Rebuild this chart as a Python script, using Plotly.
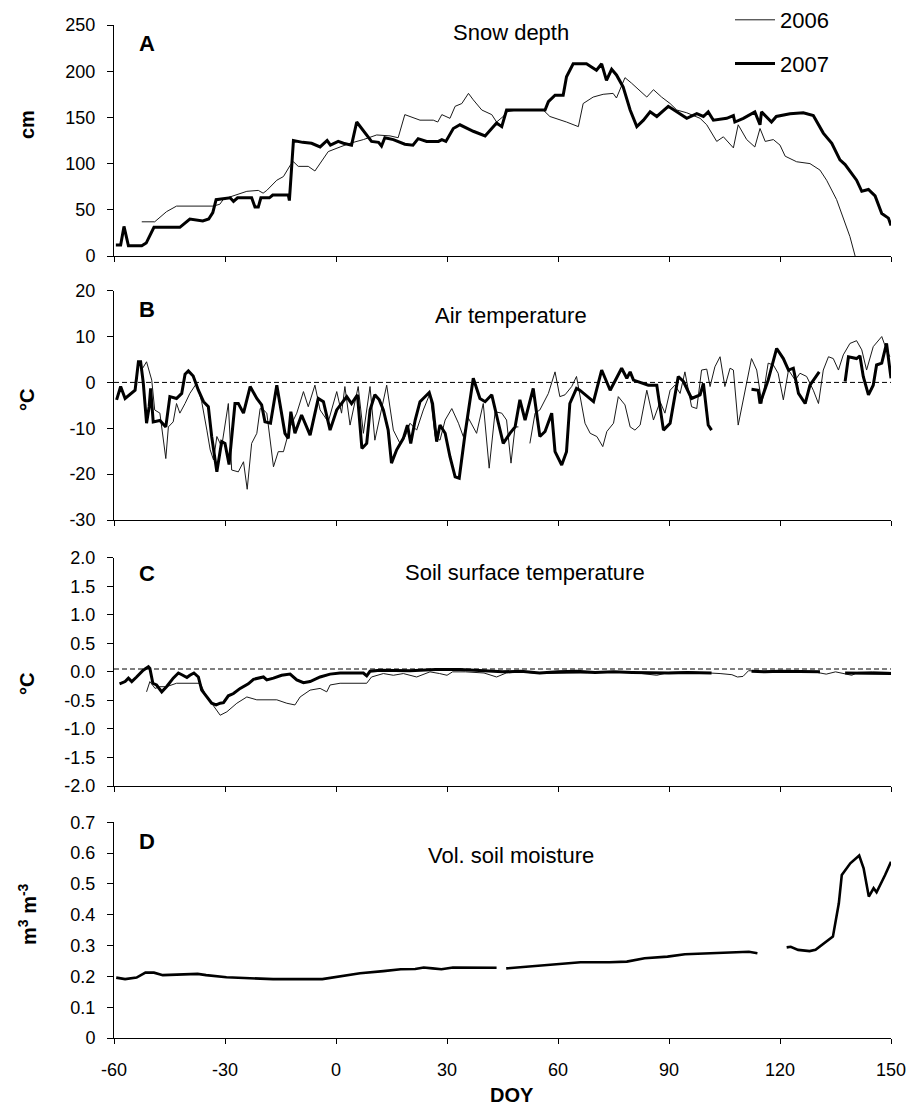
import plotly.graph_objects as go

# ---------------- DATA ----------------
doy_ticks = [-60, -30, 0, 30, 60, 90, 120, 150]
doy_tick_labels = ["-60", "-30", "0", "30", "60", "90", "120", "150"]

snow_ticks = [0, 50, 100, 150, 200, 250]
snow_tick_labels = ["0", "50", "100", "150", "200", "250"]
air_ticks = [-30, -20, -10, 0, 10, 20]
air_tick_labels = ["-30", "-20", "-10", "0", "10", "20"]
soil_ticks = [-2.0, -1.5, -1.0, -0.5, 0.0, 0.5, 1.0, 1.5, 2.0]
soil_tick_labels = ["-2.0", "-1.5", "-1.0", "-0.5", "0.0", "0.5", "1.0", "1.5", "2.0"]
moist_ticks = [0, 0.1, 0.2, 0.3, 0.4, 0.5, 0.6, 0.7]
moist_tick_labels = ["0", "0.1", "0.2", "0.3", "0.4", "0.5", "0.6", "0.7"]

# Panel A: snow depth (cm)
snow_doy_2006 = [-52.5, -49, -45.8, -43.1, -33.2, -31.4, -30.5, -28.6, -24.1, -21, -19.7, -18.7, -16, -14.2,
                 -12.4, -11.5, -10.2, -7.5, -5.7, -4.3, -2.1, 1.1, 3.8, 7.4, 11, 14.6, 16.8, 18.6, 22.7, 26.3,
                 27.5, 28.6, 30.8, 32.2, 34, 35.8, 37.1, 39.4, 42.1, 43.4, 45.2, 46.1, 48.8, 56, 57.8, 62.3,
                 65.5, 66.8, 69.5, 72.2, 74.9, 75.8, 78.1, 79.9, 82.2, 84, 85.8, 88, 90.3, 92.1, 94.8, 98.4,
                 100.2, 102.9, 104.7, 107.4, 108.7, 111, 113.2, 114.6, 116, 118.2, 120, 121.4, 124.5, 128.1,
                 130.8, 132.6, 135.3, 137.6, 138.9, 140.3]
snow_2006 = [37, 37, 48, 54, 54, 56, 61, 64, 70, 71, 68, 71, 82, 86,
             98, 102, 97, 97, 92, 100, 113, 118, 122, 126, 131, 130, 128, 153, 147, 147,
             145, 153, 149, 162, 165, 176, 169, 158, 153, 145, 151, 156, 158, 158, 151, 145,
             140, 165, 172, 175, 176, 171, 193, 187, 178, 172, 180, 172, 165, 158, 155, 149,
             142, 124, 129, 117, 142, 126, 118, 138, 124, 126, 120, 108, 102, 100,
             93, 82, 61, 35, 21, 0]

snow_doy_2007 = [-59.5, -58.2, -57.3, -56.1, -52.5, -51.3, -49.2, -42.2, -39.5, -36, -34.4, -33.3, -32.4,
                 -28.6, -27.7, -26.6, -22.8, -21.9, -21, -20.3, -18, -17.1, -12.9, -12.6, -11.5, -9, -6.6,
                 -4.3, -2.4, -1.5, 0.6, 2, 4.2, 5.6, 9.6, 11.5, 12.3, 13.2, 15.5, 18.6, 20.8, 22.2, 24.5,
                 27.7, 28.6, 29.7, 31.7, 33.5, 37.1, 40.3, 43.4, 44.8, 46.1, 56.5, 57.4, 59.2, 61.4, 62.3,
                 64.1, 67.7, 70.4, 71.8, 73.1, 74.5, 75.8, 77.6, 79.5, 81.3, 83.1, 84.9, 86.7, 89.8, 92.1,
                 94.8, 97.5, 99.3, 100.6, 102, 105.6, 107.4, 107.8, 110.1, 113.2, 114.6, 115, 117.7, 119,
                 122.7, 126.3, 129, 131.7, 134, 136.2, 137.6, 140.7, 142.1, 143.9, 145.7, 147.5, 149.3, 150]
snow_2007 = [12, 12, 32, 11, 11, 14, 31, 31, 40, 38, 40, 47, 61,
             63, 59, 63, 63, 53, 53, 63, 63, 66, 66, 60, 125, 123, 122,
             118, 125, 120, 124, 122, 120, 145, 124, 123, 119, 128, 126, 121, 120, 127, 124,
             124, 126, 124, 138, 142, 135, 130, 144, 140, 158, 158, 167, 174, 174, 194,
             208, 208, 201, 208, 190, 202, 196, 183, 158, 140, 147, 156, 151, 162, 156,
             149, 154, 151, 156, 147, 149, 152, 145, 149, 156, 142, 156, 145, 151,
             154, 155, 152, 133, 122, 104, 99, 82, 70, 72, 65, 46, 41, 33]

# Panel B: air temperature (deg C); None marks gaps in the record
air_doy_2006 = [-52.7, -51.2, -49.8, -49, -47.6, -46, -45.3, -44, -43.1, -42.2, -40.8, -39.5, -37.7, -36.3,
                -34.9, -34, -33.1, -32.2, -30.9, -29.1, -28.2, -26.4, -25, -24, -22.8, -21.4, -20.5, -19.6,
                -18.7, -16.9, -15.6, -14.2, -12.4, -10.6, -8.8, -7.5, -5.7, -4.3, -2.1, 0.2, 1.5, 2.4, 3.8,
                6, 7.4, 9.2, 10.5, 11.9, 13.7, 15.5, 17.3, 18.7, 20, 21.8, 23.6, 25.4, 26.8, 28.1, 29.5,
                31.3, 33.1, 34.4, 35.8, 38, 39.8, 41.4, 43, 44.8, 46.1, 47.3, 48.4, 49.3, None, 52.4, 53.8,
                55.1, 57.4, 59.2, 60.5, 61.9, 63.7, 65, 65.9, 67.3, 68.7, 70.5, 72.1, 73.2, 75, 76.3, 78.1,
                79.5, 80.8, 82.2, 84, 85.8, 87.6, 88.9, 90.3, 91.6, 93, 94.3, 96.1, 97.5, 98.8, 100.2,
                101.1, 102.4, 103.8, 105.1, 106.5, 107.4, 108.7, 110.5, 112.3, 113.7, 115.1, 116.8, 118.2,
                119.5, 120.9, 122.3, 124.1, 125.4, 127.2, 129, 130.4, 131.7, 133.1, 134.4, 135.8, 137.1,
                138.9, 140.7, 142.1, 143.4, 145.2, 147.5, 148.8, 149.7]
air_2006 = [2.5, 4.5, 0.5, -6, -6.7, -16.6, -9.7, -8.6, -4.6, -6.7, -4.6, -2.4, -0.2, -4.2,
            -10.4, -14.7, -16.9, -11.8, -14, -4.6, -19.1, -19.5, -17.3, -23.3, -13.3, -11.1, -5.7, -6,
            -6.7, -18.4, -15.1, -15.1, -9.7, -6.7, -2, -5.3, -0.6, -6, -8.6, -2, -6.7, -0.9, -9.3,
            -0.9, -11.1, -0.9, -12.6, -7.5, -0.6, -10.4, -13.3, -11.8, -8.9, -10.4, -6, -2.4, -11.8, -12.6, -8.2,
            -5.7, -8.9, -11.8, -7.8, -11.1, -4.6, -18.7, -6.4, -6.7, -8.2, -17.6, -9.7, -9.7, None, -13.3, -6.7,
            -6, -2.4, 2.3, -3.1, -2.7, -0.9, 1.3, -2.4, -8.9, -11.1, -11.8, -14, -10.7, -8.9, -3.1, -4.9,
            -9.7, -10.4, -9.3, -1.7, -8.2, -4.2, -6.7, -1.7, -0.6, -2.4, 2.3, -5.3, -5.7, 2.7, 2.9,
            -0.9, 3.4, 5.6, -0.9, 3.1, 2.7, -9.3, -2.4, 5.2, 2.7, -4.6, 4.2, 3.8,
            2, -3.8, 2.7, 0.5, 2, 1.3, -1.7, -4.6, 2.7, 5.6, 5.2, 2.7, 6,
            8.5, 9.1, 7.1, 2.7, 7.8, 10, 7.1, 5.6]

air_doy_2007 = [-59.3, -58.2, -57, -55.2, -54.3, -53.4, -52.8, -52.1, -51.2, -50.5, -50.1, -49.4, -47.6, -46,
                -44.9, -43.1, -41.7, -40.8, -39.9, -38.6, -37.2, -35.8, -34.5, -33.6, -32.2, -30.9, -30,
                -28.9, -27.3, -26.4, -25, -23.2, -21.4, -20.1, -19.2, -17.7, -16, -13.8, -12.9, -12.2, -11.1,
                -9.3, -7, -4.8, -3.4, -1.6, 0.2, 2.9, 4.2, 5.8, 7, 8.3, 9.2, 10.5, 11.7, 12.8, 14.1, 15,
                16.4, 18.2, 19.3, 20.2, 21.4, 22.7, 25.2, 26.1, 27.2, 28.1, 29.5, 30.8, 32.2, 33.3, 34.9,
                37.1, 38.9, 40.3, 42.1, 43.9, 45.2, 47, 48.4, 49.7, 51.1, 53.3, 55.1, 56.5, 58.3, 59.2, 61,
                62.3, 63.2, 65, 65.9, 69.6, 71.8, 74.1, 77.2, 78.6, 79.5, 80.4, 82.6, 84.4, 86.7, 88.5, 90.3,
                92.5, 93.9, 96.1, 98.4, 99.3, 100.6, 101.5, None,
                112.3, 114.1, 114.6, 116.8, 119.1, 120.9, 122.3, 123.6, 125, 126.8, 128.1, 130.6, None,
                137.6, 138.5, 140.7, 141.6, 142.5, 143.9, 145.2, 146.1, 147.5, 148.8, 150]
air_2007 = [-3.8, -0.9, -3.5, -2.4, -1.7, 4.5, 4.5, 0, -8.9, -5.3, -1.3, -8.6, -8.3, -9.7,
            -3.1, -3.5, -2.4, 1.8, 2.5, 1.4, -1.7, -4.2, -5.3, -11.8, -19.5, -12.9, -13.3,
            -17.9, -4.6, -4.6, -6.7, -0.9, -3.5, -4.9, -8.6, -8.9, -0.6, -11.1, -12.2, -6.4, -11.1,
            -7.1, -11.5, -3.5, -4.2, -10.4, -6, -3.1, -4.6, -2.7, -14.4, -13.3, -6, -2.7, -3.8, -6, -10.4, -17.6,
            -14.7, -12.2, -9.3, -13.3, -8.2, -4.2, -2.2, -4.6, -12.9, -9.3, -11.1, -16.2, -20.6, -20.9, -11.1,
            0.9, -3.5, -4.2, -2.7, -8.9, -13.3, -11.1, -9.7, -3.8, -8.2, -1.3, -11.8, -10.7, -6.7, -15.1, -18,
            -15.1, -4.6, -1.3, -1.7, -4.2, 2.7, -1.7, 3.1, 0.9, 2.3, 0.5, -0.2, -0.6, -0.6, -10.4, -8.9,
            1.3, 0.2, -3.5, -2.7, -0.2, -9.3, -10.4, None,
            -1.5, -1.7, -4.6, 0.5, 7.4, 5.2, 2.7, 3.1, -2.4, -4.6, -0.6, 2.3, None,
            0.2, 5.6, 5.2, 5.8, 1.3, -2.7, -0.6, 3.8, 4.2, 8.5, 0.9]

# Panel C: soil surface temperature (deg C)
soil_doy_2006 = [-51.2, -50.3, -48.9, -47.6, -45.8, -43.1, -36.7, -35.4, -33.6, -31.3, -29.5, -26.8, -24.1,
                 -21.4, -16, -13.3, -11.1, -9.7, -7, -4.3, -2.5, -1.6, 1.1, 8.3, 9.6, 12.8, 15.5, 18.2, 21.8,
                 25.4, 28, 30, 31.5, 35, 40, 43.4, 46, 50, 55, 60, 65, 68, 75, 80, 86.7, 90, 95, 100, 103.8,
                 107, 108.5, 110, 111.5, 115, 120, 125, 130, 132.5, 135, 139.4, 141, 145, 150]
soil_2006 = [-0.35, -0.17, -0.29, -0.26, -0.26, -0.2, -0.2, -0.38, -0.55, -0.76, -0.7, -0.55, -0.44,
             -0.49, -0.49, -0.55, -0.58, -0.44, -0.32, -0.29, -0.35, -0.23, -0.2, -0.2, -0.09, -0.03, -0.06, -0.03, -0.09,
             0.0, -0.03, -0.06, 0.0, 0.0, -0.02, -0.09, -0.02, 0.0, -0.03, -0.03, -0.03, -0.02, 0.0, -0.01, -0.06, -0.01, 0.0, -0.01, -0.03,
             -0.05, -0.09, -0.08, 0.02, 0.01, 0.02, 0.01, -0.01, -0.04, 0.0, -0.06, -0.01, 0.0, -0.01]

soil_doy_2007 = [-58.5, -57, -56.1, -55.2, -53.9, -52.1, -50.7, -50.3, -49.5, -48.5, -47.1, -45.8, -44, -42.6,
                 -41.4, -40.3, -39.5, -38.4, -37.2, -36.3, -34.9, -33.6, -32.4, -31.3, -30.4, -29.1, -27.7,
                 -25.9, -23.7, -22.3, -19.6, -18.7, -16.9, -14.7, -12.4, -10.6, -8.8, -7, -4.3, -1.6, 1.1,
                 7.4, 8.3, 9.2, 11.9, 20, 27, 33.5, 40, 45, 50, 55, 60, 65, 70, 75, 80, 85, 90, 95, 101.5,
                 None, 112.3, 116, 120, 125, 130.8, None, 137.6, 141, 145, 150]
soil_2007 = [-0.21, -0.17, -0.11, -0.17, -0.09, 0.03, 0.09, 0.06, -0.2, -0.23, -0.35, -0.26, -0.11, -0.02,
             -0.06, -0.1, -0.06, -0.02, -0.09, -0.32, -0.44, -0.55, -0.58, -0.55, -0.54, -0.42, -0.38,
             -0.29, -0.21, -0.13, -0.09, -0.14, -0.11, -0.06, -0.04, -0.14, -0.19, -0.17, -0.09, -0.04, -0.02,
             -0.02, -0.07, 0.01, 0.03, 0.02, 0.04, 0.04, 0.02, 0.0, 0.01, -0.02, 0.0, 0.01, -0.01, 0.0, -0.01, -0.02, -0.02, -0.01, -0.02,
             None, 0.01, 0.0, 0.01, 0.0, 0.0, None, -0.02, -0.02, -0.02, -0.03]

# Panel D: volumetric soil moisture (m3 m-3), 2007 only
moist_doy_2007 = [-59.4, -57, -53.9, -51.5, -49.2, -46.8, -37.4, -35.1, -29.6, -24.9, -17, -3.7, 0.2, 6.5,
                  12.8, 17.5, 21.4, 23.7, 26.1, 28.5, 31.6, 43.4, None, 46, 53.6, 58.3, 61.4, 66.1, 73.9,
                  78.6, 83.4, 89.6, 94.3, 99.8, 106.9, 111.6, 113.9, None, 121.8, 122.9, 124.9, 128, 129.6,
                  132, 134.3, 135.9, 136.7, 139, 141.4, 142.6, 144, 145.3, 146.1, 148.4, 150]
moist_2007 = [0.196, 0.191, 0.196, 0.212, 0.212, 0.204, 0.208, 0.204, 0.197, 0.194, 0.191, 0.191, 0.199, 0.21,
              0.217, 0.223, 0.224, 0.229, 0.226, 0.223, 0.229, 0.228, None, 0.226, 0.234, 0.237, 0.242, 0.246, 0.246,
              0.248, 0.259, 0.264, 0.272, 0.275, 0.278, 0.28, 0.275, None, 0.294, 0.296, 0.286, 0.282, 0.286,
              0.309, 0.329, 0.437, 0.529, 0.567, 0.592, 0.551, 0.459, 0.486, 0.473, 0.529, 0.572]

zero_ref_air = 0.0
zero_ref_soil = 0.05

# ---------------- FIGURE ----------------
W, H = 908, 1107
ML, MR = 114, 17
FONT = "Liberation Sans, Arial, sans-serif"
THIN = dict(color="#1a1a1a", width=1)
THICK = dict(color="black", width=3)

# panel pixel extents (top, bottom) -> paper domains
panels = [(25, 256), (290.7, 520), (557.7, 786), (822.3, 1038)]
domains = [[1 - b / H, 1 - t / H] for t, b in panels]

fig = go.Figure()


def add(x, y, k, line, name=None, show=False, group=None):
    fig.add_trace(go.Scatter(x=x, y=y, mode="lines", line=line, name=name, showlegend=show,
                             legendgroup=group, xaxis="x" if k == 1 else f"x{k}",
                             yaxis="y" if k == 1 else f"y{k}", hoverinfo="skip"))


add(snow_doy_2006, snow_2006, 1, THIN, "2006", True, "g1")
add(snow_doy_2007, snow_2007, 1, THICK, "2007", True, "g2")
add(air_doy_2006, air_2006, 2, THIN)
add(air_doy_2007, air_2007, 2, THICK)
add(soil_doy_2006, soil_2006, 3, THIN)
add(soil_doy_2007, soil_2007, 3, THICK)
add(moist_doy_2007, moist_2007, 4, dict(color="black", width=2.6))

fig.add_shape(type="line", xref="x2 domain", yref="y2", x0=0, x1=1, y0=zero_ref_air, y1=zero_ref_air,
              line=dict(color="black", width=1, dash="5px,3px"))
fig.add_shape(type="line", xref="x3 domain", yref="y3", x0=0, x1=1, y0=zero_ref_soil, y1=zero_ref_soil,
              line=dict(color="black", width=1, dash="5px,3px"))

yranges = [[0, 250], [-30, 20], [-2, 2], [0, 0.7]]
ytickvals = [snow_ticks, air_ticks, soil_ticks, moist_ticks]
yticktext = [snow_tick_labels, air_tick_labels, soil_tick_labels, moist_tick_labels]

layout = dict(
    width=W, height=H, margin=dict(l=ML, r=MR, t=0, b=0, autoexpand=False),
    paper_bgcolor="white", plot_bgcolor="white",
    font=dict(family=FONT, size=18, color="black"),
    showlegend=True,
    legend=dict(x=(730 - ML) / (W - ML - MR), y=1.0 + 1 / H, xanchor="left", yanchor="top",
                bgcolor="rgba(0,0,0,0)", font=dict(size=22, family=FONT),
                tracegroupgap=12, traceorder="grouped", itemwidth=40),
)
for k in range(1, 5):
    xs = "xaxis" if k == 1 else f"xaxis{k}"
    ys = "yaxis" if k == 1 else f"yaxis{k}"
    layout[xs] = dict(domain=[0, 1], range=[-60, 150], tickvals=doy_ticks, ticktext=doy_tick_labels,
                      ticks="outside", ticklen=5, tickcolor="black", showline=True, linecolor="black",
                      linewidth=1, showgrid=False, zeroline=False, showticklabels=(k == 4),
                      anchor="y" if k == 1 else f"y{k}", ticklabelstandoff=10, fixedrange=True,
                      automargin=False)
    layout[ys] = dict(domain=domains[k - 1], range=yranges[k - 1], tickvals=ytickvals[k - 1],
                      ticktext=yticktext[k - 1], ticks="outside", ticklen=6, tickcolor="black",
                      showline=True, linecolor="black", linewidth=1, showgrid=False, zeroline=False,
                      anchor="x" if k == 1 else f"x{k}", ticklabelstandoff=8, fixedrange=True,
                      automargin=False)
fig.update_layout(**layout)


def pap_y(px):
    return 1 - px / H


def pap_x(px):
    return (px - ML) / (W - ML - MR)


ann = []
# panel letters
for letter, yc in [("A", 44), ("B", 309), ("C", 573), ("D", 841)]:
    ann.append(dict(text=f"<b>{letter}</b>", x=pap_x(137), y=pap_y(yc), xanchor="left", yanchor="middle",
                    font=dict(size=22)))
# panel titles
for title, xc, yc in [("Snow depth", 511, 32), ("Air temperature", 511, 316),
                      ("Soil surface temperature", 525, 572), ("Vol. soil moisture", 511, 855)]:
    ann.append(dict(text=title, x=pap_x(xc), y=pap_y(yc), xanchor="center", yanchor="middle",
                    font=dict(size=22)))
# y-axis titles
for title, yc in [("cm", 125), ("°C", 400), ("°C", 684), ("m<sup>3</sup> m<sup>-3</sup>", 914)]:
    ann.append(dict(text=f"<b>{title}</b>", x=pap_x(27), y=pap_y(yc), xanchor="center", yanchor="middle",
                    textangle=-90, font=dict(size=20)))
# x-axis title
ann.append(dict(text="<b>DOY</b>", x=pap_x(512), y=pap_y(1095), xanchor="center", yanchor="middle",
                font=dict(size=20)))
for a in ann:
    a.update(xref="paper", yref="paper", showarrow=False)
fig.update_layout(annotations=ann)

fig.write_html("out.html")
